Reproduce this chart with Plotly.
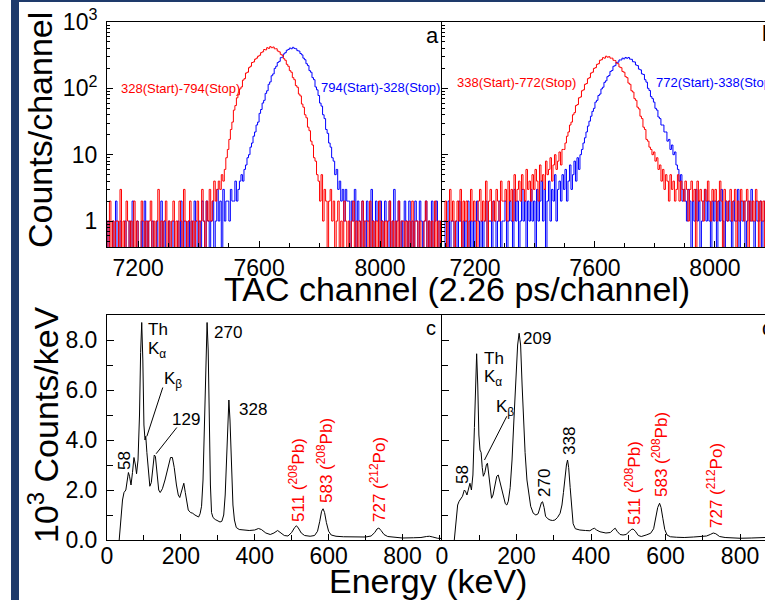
import plotly.graph_objects as go

W, H = 765, 600
FONT = "Liberation Sans, Arial, Helvetica, sans-serif"

# ---------------- data: TAC spectra (counts per channel) ----------------
tac_start, tac_step = 7095, 5
red_a = [1,0,2,0,1,0,1,1,0,3,0,1,0,2,1,0,1,0,2,0,
         1,0,0,2,1,0,1,0,1,2,0,1,0,1,3,0,1,0,1,2,
         0,1,0,1,2,0,1,0,2,1,0,3,1,0,1,2,0,1,0,1,
         2,0,1,3,1,0,2,1,3,1,2,4,2,3,4,3,5,4,6,9,
         12,17,24,31,47,55,72,80,98,105,133,140,170,175,205,215,245,250,275,285,
         305,315,345,355,385,380,410,400,425,410,420,395,395,365,355,325,315,280,265,230,
         215,185,175,145,135,110,104,82,77,58,52,40,36,26,23,16,14,9,8,5,
         4,2,5,1,3,2,0,2,3,1,2,0,1,2,0,1,0,2,1,0,
         1,0,1,2,0,1,0,1,0,2,0,1,1,0,2,0,1,0,1,0,
         2,0,1,0,1,0,1,2,0,1,0,1,0,2,0,1,1,0,1,0,
         1,0,2,0,1,1,0,1,0,0,1,2,0,1,0,1,0,2,0,1,
         0,1,0,1]
blue_a = [0,1,0,0,1,0,2,0,0,1,0,0,1,0,0,1,0,2,0,0,
          1,0,0,1,0,2,0,1,0,0,1,0,0,1,0,0,2,0,1,0,
          0,1,0,0,1,0,0,1,0,2,0,1,0,0,1,0,1,0,2,1,
          0,1,0,2,1,0,2,1,0,1,2,0,1,3,1,2,0,3,1,2,
          2,1,3,2,2,4,2,3,4,5,4,6,7,9,10,13,15,19,22,28,
          31,42,48,60,66,84,92,115,125,155,165,200,215,245,255,290,295,330,345,375,
          385,405,395,415,400,395,370,365,335,320,285,270,235,220,185,175,145,135,105,95,
          78,60,54,40,35,24,21,15,13,9,8,5,6,3,4,2,3,1,3,2,
          2,0,2,1,3,0,2,1,0,2,1,0,2,1,0,3,1,0,2,1,
          0,2,1,0,2,1,0,2,0,1,3,0,1,2,0,1,0,2,1,0,
          2,0,1,0,2,1,0,2,1,0,1,2,0,1,0,2,0,1,2,0,
          1,0,2,0]
red_b = [1,2,0,1,3,1,2,0,1,2,1,3,0,2,1,2,0,1,3,1,
         2,1,0,2,3,1,2,1,4,0,2,3,1,2,1,3,2,1,4,2,
         2,3,1,4,2,3,1,5,2,3,4,2,5,3,2,6,3,4,2,5,
         3,6,4,2,7,4,5,3,8,5,6,9,4,7,10,6,8,11,7,12,
         12,15,19,22,28,31,40,43,55,57,72,74,92,95,115,118,140,145,170,175,
         200,205,230,235,265,270,290,285,305,295,300,285,285,265,262,240,235,210,205,180,
         175,150,145,120,115,92,88,70,66,52,49,38,35,26,24,17,16,13,12,10,
         11,8,9,6,7,4,6,3,5,4,2,5,3,4,2,3,5,2,4,3,
         2,4,3,1,3,4,2,3,0,4,2,3,2,1,3,2,4,2,1,3,
         2,3,1,2,4,2,0,3,2,1,2,3,1,2,3,0,2,1,3,2,
         1,2,3,0,2,1,2,1,3,2,0,2,1,2,0,3,1,2,1,2,
         1,2,0,2]
blue_b = [0,1,0,2,0,1,1,0,1,0,2,1,0,1,0,1,2,0,1,0,
          1,0,2,1,0,1,0,1,2,0,1,1,0,2,1,0,1,2,0,1,
          1,2,0,1,2,1,0,3,1,2,0,1,3,1,2,0,2,1,3,1,
          2,0,3,1,2,4,1,3,0,2,4,1,3,2,5,1,3,4,2,5,
          3,6,2,4,7,3,5,8,4,9,6,10,12,15,18,22,27,32,38,45,
          50,62,66,78,82,98,104,123,130,150,156,180,186,215,220,245,248,268,268,285,
          278,292,284,292,276,274,252,250,225,220,195,190,165,162,135,124,100,93,75,70,
          62,50,47,37,35,28,28,22,22,16,17,12,14,10,11,7,6,4,5,2,
          3,2,1,3,2,0,2,1,3,1,2,0,1,2,3,1,2,1,0,2,
          1,2,0,2,1,3,1,0,2,1,2,1,0,2,1,1,3,0,2,1,
          2,0,1,2,1,3,1,0,2,1,1,2,0,1,2,1,0,2,1,1,
          2,0,1,2]
channels = [tac_start + tac_step * i for i in range(len(red_a))]

# ---------------- data: energy spectra (10^3 counts / keV) ----------------
energy_c = [33,38,42,46,51,55,58,61,65,69,73,77,80,84,88,91,94,97,100,103,105,108,112,116,120,124,128,131,
            135,140,144,150,157,165,172,177,182,188,193,197,201,205,208,212,216,220,226,232,238,244,248,252,
            256,260,264,268,271,274,277,280,283,287,293,300,306,311,316,320,324,328,330,333,337,341,345,350,
            358,370,385,400,410,418,430,442,452,462,470,480,490,500,508,513,518,526,535,550,562,570,576,581,
            585,589,594,600,607,620,640,660,680,700,715,725,731,736,742,750,760,780,800,830,850,865,873,882,895,907]
counts_c = [0,0.9,1.6,1.9,2.0,2.4,2.7,2.55,2.2,2.7,3.3,3.0,2.65,3.2,5.0,7.5,8.7,7.2,4.6,4.0,4.15,3.5,2.6,2.15,
            2.3,2.9,3.4,3.35,2.6,2.0,1.9,2.05,2.4,2.9,3.3,3.3,2.9,2.2,1.8,1.7,1.9,2.2,2.27,1.9,1.45,1.2,1.1,
            1.07,1.0,0.95,0.92,1.05,1.35,2.4,4.5,7.5,8.7,7.6,4.5,2.2,1.1,0.9,0.82,0.78,0.72,0.75,1.0,1.8,3.5,
            5.2,5.6,4.8,2.8,1.4,0.8,0.5,0.42,0.4,0.38,0.4,0.46,0.42,0.28,0.22,0.28,0.38,0.3,0.18,0.16,0.3,0.5,
            0.57,0.48,0.28,0.18,0.15,0.18,0.35,0.75,1.15,1.25,1.1,0.7,0.35,0.2,0.15,0.13,0.12,0.11,0.12,0.16,
            0.3,0.44,0.48,0.38,0.22,0.14,0.1,0.08,0.09,0.1,0.14,0.15,0.12,0.07,0.06]
energy_d = [33,38,42,46,51,55,60,63,67,71,75,79,83,87,90,93,96,99,102,105,108,111,115,119,122,126,130,133,
            137,142,147,151,156,161,166,170,174,178,183,188,193,198,203,207,211,215,219,223,228,233,238,245,
            252,258,263,267,270,274,278,284,290,297,303,310,317,322,326,330,334,337,340,344,348,352,358,370,
            385,397,404,409,415,424,440,452,460,465,470,478,486,494,502,508,513,519,527,535,548,560,568,574,
            579,584,588,593,598,604,613,630,650,675,693,710,720,728,735,745,760,780,800,830,850,867]
counts_d = [0,0.8,1.4,1.55,1.65,1.75,2.0,1.95,1.8,2.1,2.27,2.0,2.6,4.5,6.5,7.45,6.2,4.2,3.6,3.5,2.9,2.55,
            2.7,3.0,3.07,2.6,1.9,1.67,1.8,2.2,2.55,2.6,2.3,1.9,1.6,1.45,1.4,1.55,2.1,3.2,4.8,6.5,7.8,8.27,
            7.8,6.2,4.7,3.5,2.4,1.8,1.35,1.07,1.0,1.05,1.3,1.5,1.53,1.3,0.95,0.85,0.8,0.78,0.8,0.9,1.07,1.4,
            1.9,2.5,3.0,3.2,2.9,2.1,1.3,0.65,0.45,0.4,0.38,0.37,0.44,0.47,0.4,0.33,0.28,0.3,0.42,0.47,0.35,
            0.22,0.2,0.22,0.33,0.42,0.44,0.35,0.18,0.14,0.2,0.27,0.45,0.85,1.3,1.47,1.3,0.85,0.42,0.2,0.13,
            0.11,0.1,0.12,0.13,0.16,0.22,0.28,0.25,0.14,0.1,0.08,0.07,0.08,0.1,0.1]

tac_ticks = [1, 10, 100, 1000]
tac_ticktext = ["1", "10", "10<sup>2</sup>", "10<sup>3</sup>"]
tac_minor = [m * d for d in (0.1, 1, 10, 100) for m in range(2, 10)]


def px(x):
    return x / W


def py(y):
    return 1 - y / H


def show_log(v):
    # empty bins fall below the axis floor, like a histogram dropping to zero
    return [c if c > 0 else 0.1 for c in v]


fig = go.Figure()
RED, BLUE = "#ff0000", "#0000ff"
for xa, ya, blue, red in (("x", "y", blue_a, red_a), ("x2", "y2", blue_b, red_b)):
    fig.add_trace(go.Scatter(x=channels, y=show_log(blue), xaxis=xa, yaxis=ya, mode="lines",
                             line=dict(color=BLUE, width=1, shape="hv"), hoverinfo="skip"))
    fig.add_trace(go.Scatter(x=channels, y=show_log(red), xaxis=xa, yaxis=ya, mode="lines",
                             line=dict(color=RED, width=1, shape="hv"), hoverinfo="skip"))
fig.add_trace(go.Scatter(x=energy_c, y=counts_c, xaxis="x3", yaxis="y3", mode="lines",
                         line=dict(color="black", width=1), hoverinfo="skip"))
fig.add_trace(go.Scatter(x=energy_d, y=counts_d, xaxis="x4", yaxis="y4", mode="lines",
                         line=dict(color="black", width=1), hoverinfo="skip"))

XL = [px(107), px(442)]
XR = [px(442), 1.0]
YT = [py(247), py(22)]
YB = [py(540), py(315)]

tickfont = dict(family=FONT, size=23, color="black")
base = dict(showline=True, linecolor="black", linewidth=1, ticks="inside", tickcolor="black",
            showgrid=False, zeroline=False, tickfont=tickfont, ticklabelstandoff=4, automargin=False)


def xax(domain, anchor, rng, tick0, dtick, mdtick, tlen, mlen, standoff):
    return dict(base, domain=domain, anchor=anchor, range=rng, mirror=True, tickmode="linear",
                tick0=tick0, dtick=dtick, ticklen=tlen, ticklabelstandoff=standoff,
                minor=dict(ticks="inside", dtick=mdtick, tick0=tick0, ticklen=mlen, tickcolor="black",
                           showgrid=False))


layout = dict(
    width=W, height=H, autosize=False, margin=dict(l=0, r=0, t=0, b=0, pad=0, autoexpand=False),
    paper_bgcolor="white", plot_bgcolor="white", showlegend=False,
    font=dict(family=FONT, color="black"),
    xaxis=xax(XL, "y", [7097, 8205], 7200, 400, 100, 6, 4, 0),
    xaxis2=xax(XR, "y2", [7090, 8167], 7200, 400, 100, 6, 4, 0),
    xaxis3=xax(XL, "y3", [0, 907], 0, 200, 100, 6, 5, -5),
    xaxis4=xax(XR, "y4", [0, 867], 0, 200, 100, 6, 5, -5),
)
for name, anchor, show in (("yaxis", "x", True), ("yaxis2", "x2", False)):
    layout[name] = dict(base, domain=YT, anchor=anchor, type="log", range=[-0.391, 3.0],
                        tickmode="array", tickvals=tac_ticks, ticktext=tac_ticktext, ticklen=6,
                        showticklabels=show,
                        minor=dict(ticks="inside", tickmode="array", tickvals=tac_minor, ticklen=3,
                                   tickcolor="black", showgrid=False))
for name, anchor, show in (("yaxis3", "x3", True), ("yaxis4", "x4", False)):
    layout[name] = dict(base, domain=YB, anchor=anchor, range=[0, 9], tickmode="linear", tick0=0,
                        dtick=2, tickformat=".1f", ticklen=7, showticklabels=show,
                        minor=dict(ticks="inside", dtick=1, ticklen=6, tickcolor="black", showgrid=False))
fig.update_layout(**layout)

ann = []


def text(x, y, s, size=17, color="black", angle=0, xanchor="center", yanchor="middle"):
    ann.append(dict(x=px(x), y=py(y), xref="paper", yref="paper", text=s, showarrow=False,
                    textangle=angle, xanchor=xanchor, yanchor=yanchor,
                    font=dict(family=FONT, size=size, color=color)))


# axis titles
text(40, 130, "Counts/channel", 34, angle=-90)
text(457, 289, "TAC channel (2.26 ps/channel)", 34)
text(43, 425, "10<sup>3</sup> Counts/keV", 34, angle=-90)
text(428, 581, "Energy (keV)", 34)
# panel letters
text(432, 35, "a", 22)
text(768, 34, "b", 22)
text(431, 328, "c", 20)
text(767, 328, "d", 20)
# TAC labels
text(180, 88, "328(Start)-794(Stop)", 13, RED)
text(380, 87, "794(Start)-328(Stop)", 13, BLUE)
text(516, 83, "338(Start)-772(Stop)", 13, RED)
text(654, 83, "772(Start)-338(Stop)", 13, BLUE, xanchor="left")
# spectrum c labels
text(146, 329, "Th", xanchor="left")
text(146, 350, "K<sub>α</sub>", xanchor="left")
text(162, 380, "K<sub>β</sub>", xanchor="left")
text(186, 419, "129")
text(212, 332, "270", xanchor="left")
text(237, 409, "328", xanchor="left")
text(124, 461, "58", angle=-90)
text(297, 480, "511 (<sup>208</sup>Pb)", color=RED, angle=-90)
text(325, 461, "583 (<sup>208</sup>Pb)", color=RED, angle=-90)
text(378, 480, "727 (<sup>212</sup>Po)", color=RED, angle=-90)
# spectrum d labels
text(482, 358, "Th", xanchor="left")
text(482, 378, "K<sub>α</sub>", xanchor="left")
text(494, 408, "K<sub>β</sub>", xanchor="left")
text(521, 338, "209", xanchor="left")
text(569, 441, "338", angle=-90)
text(544, 483, "270", angle=-90)
text(462, 475, "58", angle=-90)
text(633, 483, "511 (<sup>208</sup>Pb)", color=RED, angle=-90)
text(660, 455, "583 (<sup>208</sup>Pb)", color=RED, angle=-90)
text(715, 486, "727 (<sup>212</sup>Po)", color=RED, angle=-90)
fig.update_layout(annotations=ann)

NAVY = "#1e3a6b"
shapes = [
    dict(type="rect", xref="paper", yref="paper", x0=px(11), x1=px(19), y0=0, y1=1,
         fillcolor=NAVY, line=dict(width=0)),
    dict(type="rect", xref="paper", yref="paper", x0=px(11), x1=1, y0=py(2), y1=1,
         fillcolor=NAVY, line=dict(width=0)),
    # leader lines (data coordinates of the energy panels)
    dict(type="line", xref="x3", yref="y3", x0=151, y0=6.1, x1=108, y1=4.15, line=dict(color="black", width=1)),
    dict(type="line", xref="x3", yref="y3", x0=189, y0=4.5, x1=133, y1=3.45, line=dict(color="black", width=1)),
    dict(type="line", xref="x4", yref="y4", x0=174, y0=4.95, x1=114, y1=3.2, line=dict(color="black", width=1)),
]
fig.update_layout(shapes=shapes)

fig.write_html("out.html", config={"displayModeBar": False},
               post_script="document.body.style.margin='0px';document.body.style.overflow='hidden';")
